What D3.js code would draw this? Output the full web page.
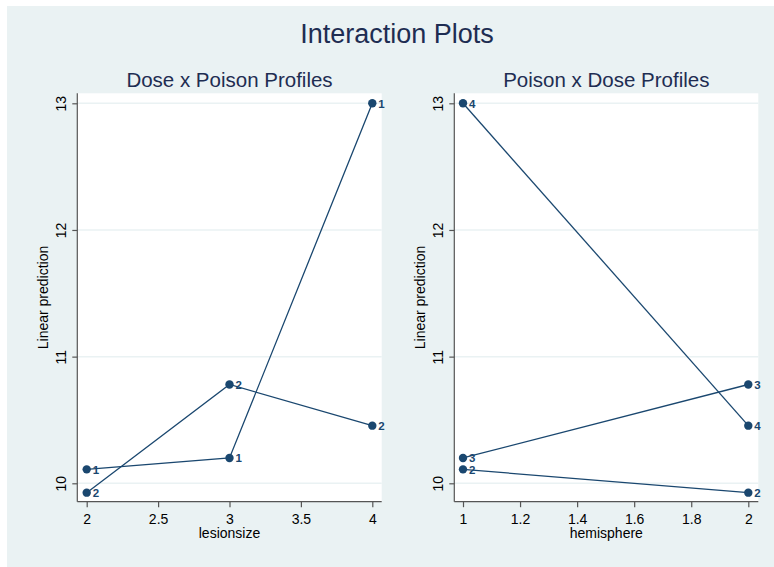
<!DOCTYPE html>
<html>
<head>
<meta charset="utf-8">
<script src="https://cdn.jsdelivr.net/npm/d3@7"></script>
<style>
    body { margin: 0; background: #fff; }
    svg { display: block; font-family: "Liberation Sans", Arial, sans-serif; }
</style>
</head>
<body>
<svg id="chart" width="774" height="567"></svg>
<script>
// data
var lesionsize = [2, 3, 4],
    hemisphere = [1, 2],
    pred_hem1 = [10.11, 10.2, 13.0],     // by lesionsize 2,3,4
    pred_hem2 = [9.926, 10.78, 10.455],
    y_ticks = [10, 11, 12, 13],
    x_ticks_left = [2, 2.5, 3, 3.5, 4],
    x_ticks_right = [1, 1.2, 1.4, 1.6, 1.8, 2];

var pred_by_hem = [pred_hem1, pred_hem2];

var navy = "#1a476f",
    title_color = "#1e2d52",
    bg = "#eaf2f3",
    axis_color = "#555";

var svg = d3.select("#chart");

svg.append("rect")
    .attr("x", 7).attr("y", 6)
    .attr("width", 767).attr("height", 561)
    .attr("fill", bg);

svg.append("text")
    .attr("x", 397).attr("y", 43.3)
    .attr("text-anchor", "middle")
    .attr("font-size", 27)
    .attr("fill", title_color)
    .text("Interaction Plots");

// left panel: x = lesionsize, one line per hemisphere
var left_series = hemisphere.map(function (h, i) {
    return {
        label: String(h),
        points: lesionsize.map(function (ls, j) {
            return {x: ls, y: pred_by_hem[i][j]};
        })
    };
});

// right panel: x = hemisphere, one line per lesionsize
var right_series = lesionsize.map(function (ls, j) {
    return {
        label: String(ls),
        points: hemisphere.map(function (h, i) {
            return {x: h, y: pred_by_hem[i][j]};
        })
    };
});

drawPanel({
    left: 77.3, right: 381.7, top: 93.3, bottom: 501.7,
    x: d3.scaleLinear().domain([2, 4]).range([86.7, 372.3]),
    x_ticks: x_ticks_left,
    title: "Dose x Poison Profiles",
    x_title: "lesionsize",
    series: left_series
});

drawPanel({
    left: 454.3, right: 758.3, top: 93.3, bottom: 501.7,
    x: d3.scaleLinear().domain([1, 2]).range([463, 748.3]),
    x_ticks: x_ticks_right,
    title: "Poison x Dose Profiles",
    x_title: "hemisphere",
    series: right_series
});

function drawPanel(p) {
    var x = p.x,
        y = d3.scaleLinear().domain([10, 13]).range([483.3, 103.3]),
        cx = (p.left + p.right) / 2,
        g = svg.append("g");

    g.append("rect")
        .attr("x", p.left).attr("y", p.top)
        .attr("width", p.right - p.left).attr("height", p.bottom - p.top)
        .attr("fill", "#fff");

    // grid lines
    g.selectAll(".grid").data(y_ticks).enter().append("line")
        .attr("class", "grid")
        .attr("x1", p.left).attr("x2", p.right)
        .attr("y1", function (d) { return y(d); })
        .attr("y2", function (d) { return y(d); })
        .attr("stroke", bg).attr("stroke-width", 1.5);

    // y axis
    var y_axis = g.append("g")
        .attr("transform", "translate(" + p.left + ",0)")
        .call(d3.axisLeft(y).tickValues(y_ticks).tickSize(5).tickPadding(6).tickFormat(d3.format("d")));
    y_axis.select(".domain").attr("d", "M0," + p.top + "V" + p.bottom);
    y_axis.selectAll("line, path").attr("stroke", axis_color).attr("stroke-width", 1.2);
    y_axis.selectAll("text")
        .attr("font-size", 14).attr("fill", "#000")
        .attr("font-family", "Liberation Sans, Arial, sans-serif")
        .attr("text-anchor", "middle").attr("dy", null)
        .attr("x", null)
        .attr("transform", function () {
            return "translate(-11.3,0) rotate(-90)";
        });

    g.append("text")
        .attr("transform", "translate(" + (p.left - 29) + "," + ((p.top + p.bottom) / 2) + ") rotate(-90)")
        .attr("text-anchor", "middle")
        .attr("font-size", 14)
        .text("Linear prediction");

    // x axis
    var x_axis = g.append("g")
        .attr("transform", "translate(0," + p.bottom + ")")
        .call(d3.axisBottom(x).tickValues(p.x_ticks).tickSize(5.5).tickPadding(8).tickFormat(d3.format("")));
    x_axis.select(".domain").attr("d", "M" + p.left + ",0H" + p.right);
    x_axis.selectAll("line, path").attr("stroke", axis_color).attr("stroke-width", 1.2);
    x_axis.selectAll("text")
        .attr("font-size", 14).attr("fill", "#000")
        .attr("font-family", "Liberation Sans, Arial, sans-serif")
        .attr("dy", null).attr("y", 22);

    g.append("text")
        .attr("x", cx).attr("y", 538)
        .attr("text-anchor", "middle")
        .attr("font-size", 14)
        .text(p.x_title);

    g.append("text")
        .attr("x", cx).attr("y", 86.7)
        .attr("text-anchor", "middle")
        .attr("font-size", 20.5)
        .attr("fill", title_color)
        .text(p.title);

    // profile lines
    var line = d3.line()
        .x(function (d) { return x(d.x); })
        .y(function (d) { return y(d.y); });

    var s = g.selectAll(".series").data(p.series).enter().append("g").attr("class", "series");

    s.append("path")
        .attr("d", function (d) { return line(d.points); })
        .attr("fill", "none")
        .attr("stroke", navy)
        .attr("stroke-width", 1.3);

    var pts = s.selectAll(".pt").data(function (d) {
        return d.points.map(function (pt) { return {x: pt.x, y: pt.y, label: d.label}; });
    }).enter().append("g").attr("class", "pt")
        .attr("transform", function (d) { return "translate(" + x(d.x) + "," + y(d.y) + ")"; });

    pts.append("circle")
        .attr("r", 4.2)
        .attr("fill", navy);

    pts.append("text")
        .attr("x", 6).attr("y", 4.2)
        .attr("font-size", 11.5)
        .attr("font-weight", "bold")
        .attr("fill", navy)
        .text(function (d) { return d.label; });
}
</script>
</body>
</html>
